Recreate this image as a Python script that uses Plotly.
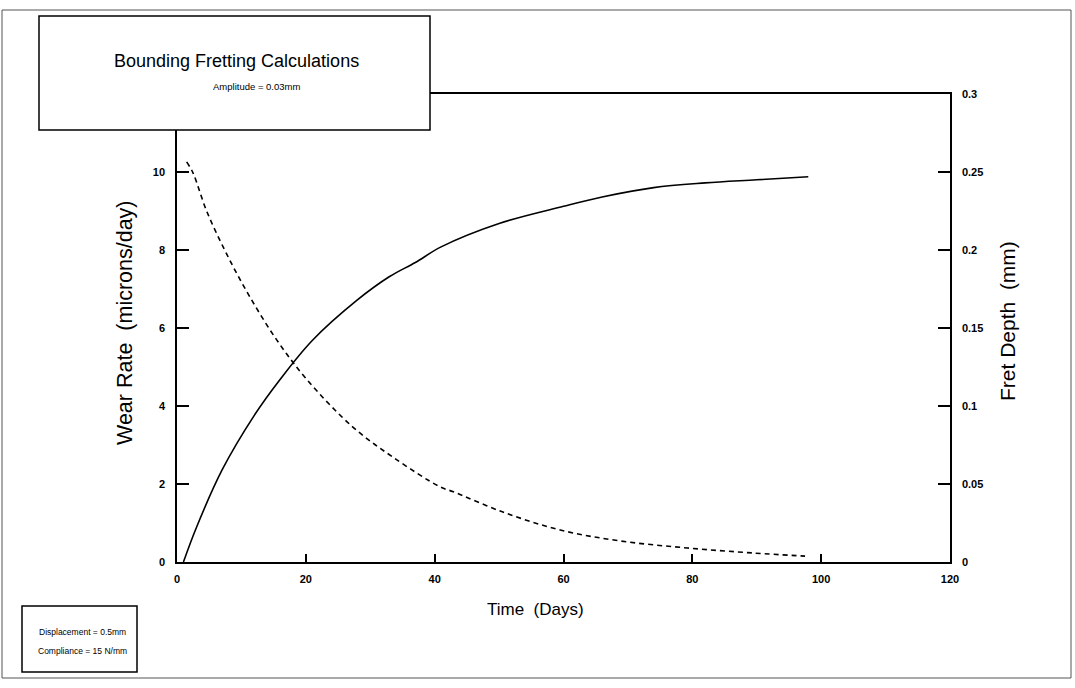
import plotly.graph_objects as go

# ---- data ----
depth_days = [1, 3, 7, 12, 16, 21, 28, 33, 37, 41, 50, 60, 66, 74, 82, 90, 98]
fret_depth_mm = [0.0, 0.022, 0.059, 0.094, 0.117, 0.142, 0.168, 0.183, 0.192,
                 0.202, 0.217, 0.228, 0.234, 0.240, 0.243, 0.245, 0.247]

wear_days = [1.5, 2.5, 4.6, 7.7, 11.3, 15.5, 20.2, 27.3, 33.5, 40.8, 42.9,
             50.6, 59.5, 68.8, 79.2, 89.5, 97.5]
wear_rate = [10.26, 9.97, 9.0, 7.9, 6.8, 5.69, 4.67, 3.46, 2.69, 1.93, 1.8,
             1.28, 0.82, 0.54, 0.36, 0.23, 0.15]

x_ticks = [0, 20, 40, 60, 80, 100, 120]
left_ticks = [0, 2, 4, 6, 8, 10]
right_ticks = [0, 0.05, 0.1, 0.15, 0.2, 0.25, 0.3]
right_ticktext = ["0", "0.05", "0.1", "0.15", "0.2", "0.25", "0.3"]

W, H = 1075, 688
L, R, T, B = 177, 950, 94, 562
FONT = "Liberation Sans, Arial, Helvetica, sans-serif"


def px(x):
    return (x - L) / (R - L)


def py(y):
    return (B - y) / (B - T)


fig = go.Figure()
fig.add_trace(go.Scatter(x=wear_days, y=wear_rate, mode="lines",
                         line=dict(color="black", width=1.6, dash="5px,4px", shape="spline"),
                         yaxis="y", showlegend=False))
fig.add_trace(go.Scatter(x=depth_days, y=fret_depth_mm, mode="lines",
                         line=dict(color="black", width=1.6, shape="spline"),
                         yaxis="y2", showlegend=False))

tickfont = dict(family=FONT, size=11, color="black", weight="bold")
fig.update_layout(
    width=W, height=H,
    margin=dict(l=L, r=W - R, t=T, b=H - B),
    paper_bgcolor="white", plot_bgcolor="white",
    font=dict(family=FONT, color="black"),
    xaxis=dict(range=[0, 120], tickvals=x_ticks, ticks="inside", ticklen=8,
               tickwidth=1.5, tickcolor="black", showline=True, linecolor="black",
               linewidth=1.5, mirror=True, showgrid=False, zeroline=False,
               tickfont=tickfont, ticklabelstandoff=6),
    yaxis=dict(range=[0, 12], tickvals=left_ticks, ticks="inside", ticklen=12,
               tickwidth=1.5, tickcolor="black", showline=True, linecolor="black",
               linewidth=1.5, showgrid=False, zeroline=False, tickfont=tickfont,
               ticklabelstandoff=8),
    yaxis2=dict(range=[0, 0.3], tickvals=right_ticks, ticktext=right_ticktext,
                overlaying="y", side="right", ticks="inside", ticklen=12,
                tickwidth=1.5, tickcolor="black", showline=True, linecolor="black",
                linewidth=1.5, showgrid=False, zeroline=False, tickfont=tickfont,
                ticklabelstandoff=8),
)

shapes = [
    # page border
    dict(type="rect", xref="paper", yref="paper", x0=px(2), x1=px(1071), y0=py(678), y1=py(10),
         line=dict(color="#555", width=1), layer="below"),
    # title box
    dict(type="rect", xref="paper", yref="paper", x0=px(39), x1=px(430), y0=py(130), y1=py(16),
         line=dict(color="black", width=1.5), fillcolor="white", layer="above"),
    # info box
    dict(type="rect", xref="paper", yref="paper", x0=px(22), x1=px(137), y0=py(672), y1=py(606),
         line=dict(color="black", width=1.5), fillcolor="white", layer="above"),
]
fig.update_layout(shapes=shapes)

nb = "\u00a0"
ann = [
    dict(text="Bounding Fretting Calculations", x=px(236), y=py(61), size=18),
    dict(text="Amplitude = 0.03mm", x=px(256), y=py(86), size=9.5),
    dict(text="Displacement = 0.5mm", x=px(82), y=py(632), size=8.5),
    dict(text="Compliance = 15 N/mm", x=px(82), y=py(651), size=8.5),
    dict(text="Time" + nb * 2 + "(Days)", x=px(535), y=py(609), size=17),
    dict(text="Wear Rate" + nb * 2 + "(microns/day)", x=px(125), y=py(323), size=21.5, angle=-90),
    dict(text="Fret Depth" + nb * 2 + "(mm)", x=px(1007), y=py(321), size=21, angle=-90),
]
fig.update_layout(annotations=[
    dict(text=a["text"], x=a["x"], y=a["y"], xref="paper", yref="paper",
         xanchor="center", yanchor="middle", showarrow=False,
         textangle=a.get("angle", 0),
         font=dict(family=FONT, size=a["size"], color="black"))
    for a in ann
])

fig.write_html("out.html")
